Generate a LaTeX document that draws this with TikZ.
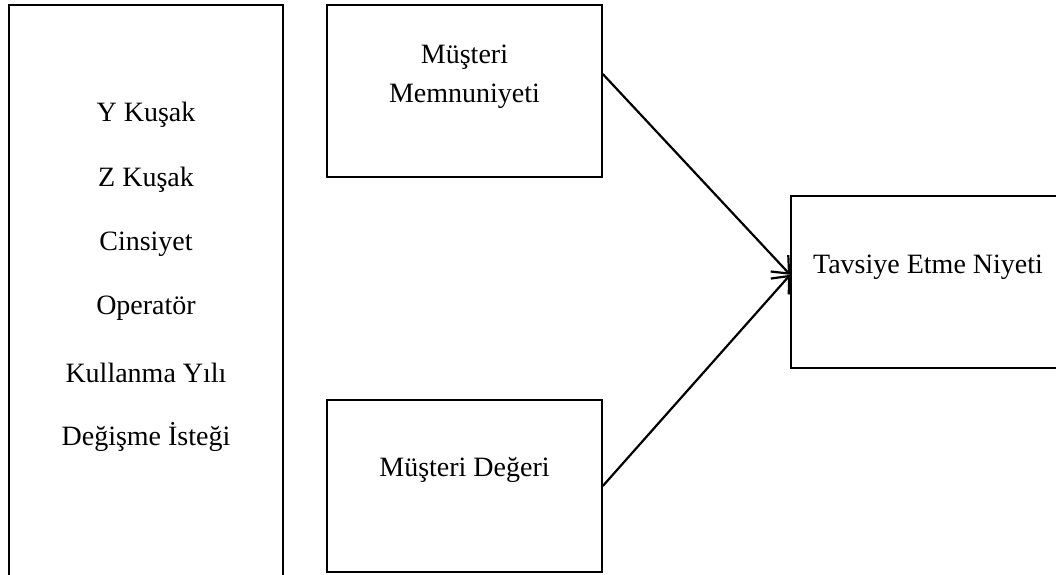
\documentclass[tikz,border=0pt]{standalone}
\usepackage{fontspec}
\setmainfont{Liberation Serif}
\usetikzlibrary{arrows.meta, positioning}
\definecolor{boxline}{RGB}{0,0,0}

\begin{document}
\begin{tikzpicture}[x=1pt, y=-1pt,
    box/.style={draw=boxline, line width=1.6pt, inner sep=0pt},
    lbl/.style={font=\fontsize{28}{39}\selectfont, align=center, inner sep=0pt},
    arr/.style={draw=boxline, line width=2.2pt, -{Straight Barb[length=14pt, width=24pt, line width=2.2pt]}}]

    \useasboundingbox (0,0) rectangle (1056,574);
    \clip (0,0) rectangle (1056,574);

    % Control variables
    \node[box, minimum width=274pt, minimum height=640pt] at (146,325) (ctrl) {};
    \foreach \t [count=\i] in {Y Kuşak, Z Kuşak, Cinsiyet, Operatör, Kullanma Yılı, Değişme İsteği}
        \node[lbl] at (146,{115+64.4*(\i-1)}) (c\i) {\t};

    % Customer satisfaction
    \node[box, minimum width=275pt, minimum height=172pt] at (464.5,91) (sat) {};
    \node[lbl] at (464.5,77) (satT) {Müşteri\\Memnuniyeti};

    % Customer value
    \node[box, minimum width=275pt, minimum height=172pt] at (464.5,486) (val) {};
    \node[lbl] at (464.5,470) (valT) {Müşteri Değeri};

    % Recommendation intention
    \node[box, minimum width=274pt, minimum height=172pt] at (928,282) (rec) {};
    \node[lbl] at (928,267) (recT) {Tavsiye Etme Niyeti};

    \draw[arr] (sat.7) -- (rec.177);
    \draw[arr] (val.east) -- (rec.177);

\end{tikzpicture}
\end{document}
